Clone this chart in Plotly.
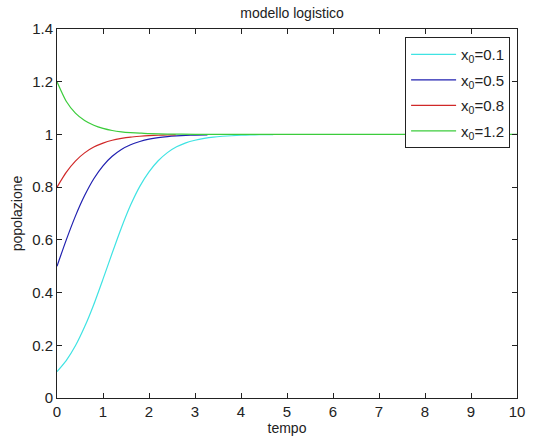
import plotly.graph_objects as go

# ---- data ----
t_cyan = [0, 0.2, 0.4, 0.6, 0.8, 1.0, 1.2, 1.4, 1.6, 1.8, 2.0, 2.2, 2.4, 2.6, 2.8, 3.0, 3.2, 3.4, 3.6, 3.8, 4.0, 4.2, 4.4, 4.7]
y_cyan = [0.100, 0.142, 0.198, 0.270, 0.355, 0.451, 0.550, 0.646, 0.732, 0.803, 0.858, 0.900, 0.931, 0.953, 0.968, 0.978, 0.985, 0.990, 0.993, 0.995, 0.997, 0.998, 0.9987, 0.9993]

t_blue = [0, 0.2, 0.4, 0.6, 0.8, 1.0, 1.2, 1.4, 1.6, 1.8, 2.0, 2.2, 2.4, 2.6, 2.8, 3.0, 3.27]
y_blue = [0.500, 0.599, 0.690, 0.768, 0.832, 0.881, 0.917, 0.943, 0.961, 0.973, 0.982, 0.988, 0.992, 0.9945, 0.9963, 0.9975, 0.9986]

t_red = [0, 0.2, 0.4, 0.6, 0.8, 1.0, 1.2, 1.4, 1.6, 1.8, 2.0, 2.2, 2.4, 2.58]
y_red = [0.800, 0.856, 0.899, 0.930, 0.952, 0.967, 0.978, 0.985, 0.990, 0.993, 0.9954, 0.9969, 0.9979, 0.9986]

t_green = [0, 0.2, 0.4, 0.6, 0.8, 1.0, 1.2, 1.4, 1.6, 1.8, 2.0, 2.4, 3.0, 4.0, 10.0]
y_green = [1.200, 1.126, 1.081, 1.053, 1.035, 1.023, 1.015, 1.010, 1.007, 1.005, 1.003, 1.0014, 1.0004, 1.0001, 1.0]

series_names = ["x<sub>0</sub>=0.1", "x<sub>0</sub>=0.5", "x<sub>0</sub>=0.8", "x<sub>0</sub>=1.2"]

x_tickvals = [0, 1, 2, 3, 4, 5, 6, 7, 8, 9, 10]
x_ticktext = ["0", "1", "2", "3", "4", "5", "6", "7", "8", "9", "10"]
y_tickvals = [0, 0.2, 0.4, 0.6, 0.8, 1.0, 1.2, 1.4]
y_ticktext = ["0", "0.2", "0.4", "0.6", "0.8", "1", "1.2", "1.4"]

colors = ["#3fe3e3", "#2020b0", "#d02828", "#3ccc3c"]

fig = go.Figure()
for i, ((tx, ty), name, col) in enumerate(zip([(t_cyan, y_cyan), (t_blue, y_blue), (t_red, y_red), (t_green, y_green)],
                                              series_names, colors)):
    fig.add_trace(go.Scatter(x=tx, y=ty, mode="lines", name=name, legendgroup=f"g{i}",
                             line=dict(color=col, width=1.2, shape="spline", smoothing=0.6)))

font = "Liberation Sans, Arial, sans-serif"
axis_common = dict(showgrid=False, zeroline=False, showline=True, linecolor="#222",
                   linewidth=1, mirror="ticks", ticks="inside", ticklen=5, tickcolor="#222",
                   automargin=False,
                   tickfont=dict(family=font, size=15, color="#222"))

fig.update_layout(
    width=533, height=438,
    margin=dict(l=57, r=16, t=29, b=40),
    paper_bgcolor="white", plot_bgcolor="white",
    title=dict(text="modello logistico", x=0.511, xanchor="center", xref="paper", y=0.969, yanchor="middle",
               font=dict(family=font, size=14, color="#222"), automargin=False),
    xaxis=dict(range=[0, 10], tickvals=x_tickvals, ticktext=x_ticktext,
               title=dict(text="tempo", font=dict(family=font, size=14, color="#222"), standoff=2),
               **axis_common),
    yaxis=dict(range=[0, 1.4], tickvals=y_tickvals, ticktext=y_ticktext,
               title=dict(text="popolazione", font=dict(family=font, size=14, color="#222"), standoff=6),
               **axis_common),
    legend=dict(x=0.985, y=0.978, xanchor="right", yanchor="top",
                bgcolor="white", bordercolor="#222", borderwidth=1, tracegroupgap=3,
                font=dict(family=font, size=15, color="#222"), itemwidth=45),
    showlegend=True,
)

fig.write_html("out.html", config={"displayModeBar": False},
               post_script="document.body.style.margin='0px';document.body.style.overflow='hidden';")
